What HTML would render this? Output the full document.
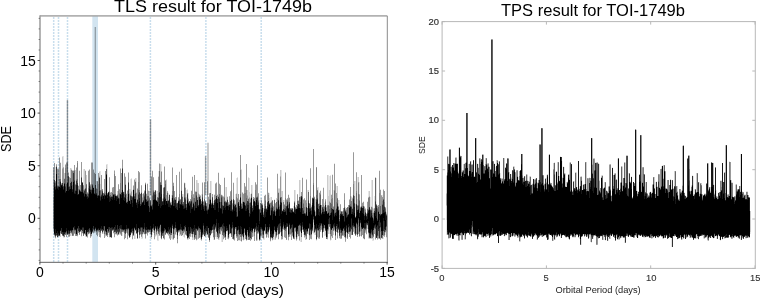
<!DOCTYPE html>
<html><head><meta charset="utf-8"><style>
html,body{margin:0;padding:0;background:#fff;}
svg{display:block;will-change:transform;}
</style></head><body>
<svg width="760" height="298" viewBox="0 0 760 298">
<rect width="760" height="298" fill="#fff"/>
<line x1="53.7" y1="15.9" x2="53.7" y2="262.4" stroke="#1f77b4" stroke-opacity="0.24" stroke-width="1.5" stroke-dasharray="2 1" stroke-dashoffset="1.9"/>
<line x1="58.5" y1="15.9" x2="58.5" y2="262.4" stroke="#1f77b4" stroke-opacity="0.24" stroke-width="1.5" stroke-dasharray="2 1" stroke-dashoffset="1.9"/>
<line x1="67.5" y1="15.9" x2="67.5" y2="262.4" stroke="#1f77b4" stroke-opacity="0.24" stroke-width="1.5" stroke-dasharray="2 1" stroke-dashoffset="1.9"/>
<line x1="150.4" y1="15.9" x2="150.4" y2="262.4" stroke="#1f77b4" stroke-opacity="0.24" stroke-width="1.5" stroke-dasharray="2 1" stroke-dashoffset="1.9"/>
<line x1="205.9" y1="15.9" x2="205.9" y2="262.4" stroke="#1f77b4" stroke-opacity="0.24" stroke-width="1.5" stroke-dasharray="2 1" stroke-dashoffset="1.9"/>
<line x1="261.2" y1="15.9" x2="261.2" y2="262.4" stroke="#1f77b4" stroke-opacity="0.24" stroke-width="1.5" stroke-dasharray="2 1" stroke-dashoffset="1.9"/>
<rect x="92.3" y="15.9" width="5.7" height="246.49999999999997" fill="#1f77b4" fill-opacity="0.2"/>
<path d="M53.5 231v4m1 1v1m1-70v14m0 57v1m2-71v1m1-1v1m1 67v1m1-75v1m2-7v1m1-1v11m0 70v1m1-1v1m7-70v1m0 65v2m6 0v1m1-52v1m1-16v1m2 65v1m1-4v1m1-65v16m1 49v1m1-65v1m0 65v1m3-67v1m0 63v1m3 1v1m2-4v1m1-62v1m1 59v1m2 3v1m1-4v2m1-64v1m1-1v13m3 48v2m2 2v1m1-73v1m1-1v29m1-2v1m0 41v2m1 2v1m1-1v1m3-5v1m1 3v1m1-4v1m4-1v1m3-76v1m0 72v4m1-45v1m0 40v1m1 6v1m1-64v1m1 16v1m1 45v1m3-61v10m1-11v1m1 11v6m0 43v1m3-9v8m1-61v14m2 40v1m1 5v1m1-46v1m1 43v2m1-1v1m2-5v1m1-53v1m1 10v1m1-11v1m1 6v1m1 41v2m1-43v9m0 34v5m2-69v1m0 61v3m2-45v1m0 48v1m1-4v1m1-46v3m0 41v1m1 4v1m1-70v5m0 60v5m2-5v2m1-74v7m0 68v1m1-42v1m4-20v1m0 53v1m1 0v1m1-42v4m2 4v1m1-7v3m0 40v1m1 0v1m1-58v1m3 50v2m1-33v1m0 40v1m2-73v1m1 63v1m2-1v1m1-42v8m0 32v3m1-55v1m0 54v1m1-55v4m1 3v7m1-8v1m1 3v5m0 41v1m3-50v1m0 43v3m1-61v1m1 58v5m3 0v1m1-61v3m0 56v1m3-2v2m1-46v7m3 35v1m1-37v1m1 34v1m1-1v2m1-41v1m2 39v2m1-57v21m2-1v2m0 35v2m1-46v1m2 42v2m1-45v1m1-23v1m1 10v1m0 54v2m1-6v1m1-41v1m0 37v10m2-3v1m1-63v1m1 9v13m1 32v2m1-38v1m1 42v1m1-6v4m3-38v3m1-21v1m2 11v9m1-25v15m1-16v1m1 62v1m1-42v1m0 40v1m2-72v1m1 67v3m1-47v1m0 46v1m1-5v4m4-63v1m1 0v14m1 2v4m2-13v20m1 31v1m1-40v1m3 42v1m2-41v8m1-10v5m1 33v1m2 2v1m1-45v1m0 36v8m1-46v1m0 39v1m1-29v2m1 27v2m1-45v1m1 0v5m0 32v1m1-34v5m0 39v1m1-4v1m1 1v1m1-37v2m0 33v1m1-41v1m0 34v6m3-67v1m1 14v1m0 50v1m1-52v1m0 45v1m1-3v1m1-63v21m1 48v1m2-40v4m0 33v1m4-44v1m0 45v1m1-44v1m1 37v2m2-1v1m1-31v3m1 30v1m1-50v17m0 25v5m2 0v2m1-3v1m2-57v16m0 36v10m2-65v1m1 54v3m3 4v1m1-50v18m1 26v1m3-30v1m0 33v1m1-8v1m1 0v1m1-38v1m0 36v2m2 5v1m1-54v1m0 49v1m1-51v16m1-11v1m1-3v1m3-4v1m1 15v3m0 23v7m1-1v1m1-31v2m1 32v1m1-65v21m1-20v14m0 37v7m1-59v1m0 64v1m1-47v1m0 42v3m1-66v1m1 15v16m1-43v1m0 67v1m2-46v7m3 7v9m0 29v1m5-2v1m1-31v2m1 24v5m5-42v1m1 0v1m3-17v23m1 30v1m1-58v22m2-17v12m1 12v1m2-5v1m1-2v1m1 37v1m2-6v1m1-34v1m1-11v6m0 41v1m2-42v12m1-29v26m1 33v2m1-33v1m0 31v1m1-45v12m2-30v26m1 1v1m2-36v1m1 18v1m1 48v1m1-44v2m1 39v3m2-6v2m1-23v1m0 24v1m1-22v10" stroke="#000" stroke-opacity="0.10" stroke-width="1" shape-rendering="crispEdges" fill="none"/>
<path d="M53.5 230v1m4 6v1m1-2v1m1-80v1m1 76v3m2-80v11m2 5v5m1-14v1m1-3v1m1-1v1m1 9v1m2-5v10m0 55v3m1-67v1m1 0v1m1-1v1m2-1v14m1-17v1m8 1v20m1 46v1m1-61v9m1 53v1m2-69v1m0 63v1m1-50v1m1-23v1m1-1v1m1 6v1m1 62v1m1-2v1m1-51v7m2 44v1m1-61v4m1 8v6m0 47v1m3-7v1m2 3v1m1-71v4m4 23v1m2-6v1m2-18v1m2 24v1m0 38v1m1-44v3m0 41v1m2-3v1m1-66v1m0 65v1m7-45v1m1-19v1m0 62v1m1-47v4m1-4v4m1-14v12m0 42v1m2-49v1m1-7v1m0 53v6m1-61v3m1 11v1m1-5v1m3 45v1m2-41v3m0 38v3m1-5v1m1-44v1m1 47v1m2-4v1m2-45v6m2-21v1m0 60v2m2-9v3m1-42v1m1 37v7m1-42v6m1-9v6m0 34v9m1-64v1m0 57v2m1-73v1m1 0v18m0 51v3m2-37v2m1-14v1m0 50v1m1-73v1m0 72v1m2-60v15m2 2v3m0 35v1m1-42v1m0 43v1m2-41v4m0 33v3m1-71v1m0 61v10m1 0v1m2-6v1m1-3v1m2-1v1m1-1v4m2-68v1m1 25v2m1 37v1m1-2v5m1-50v1m1 9v7m1-14v3m0 46v1m1-42v1m0 39v1m4-1v2m1-6v1m2-44v1m1-12v11m1-8v14m0 34v8m1-56v10m1 1v1m1 0v1m0 41v1m1 2v1m1-59v1m4 50v2m4-54v12m1 9v1m1 27v3m1 4v1m2-55v1m0 45v8m1-55v1m0 49v5m1 0v2m1 0v1m1-3v1m2-7v1m1-37v1m0 39v7m1-46v1m2 3v1m1-14v14m0 30v1m1 0v7m7 1v1m1-38v1m0 25v5m1-41v1m1-16v20m3 39v4m1-71v33m0 38v1m1-50v1m0 43v1m2-4v3m1-50v1m1 53v1m1-51v5m0 41v4m1-62v20m1-6v5m1 1v1m1-14v8m0 46v1m2-11v7m2-5v1m1-48v1m1 49v6m1-7v1m1-26v1m2-11v2m1 3v1m1 4v4m1 19v1m3-55v1m2 20v5m1-1v1m1-6v4m2 36v2m1-7v2m1 5v1m1-42v4m0 35v1m1-7v4m1-46v3m1-3v15m1-34v6m1 15v6m0 42v1m1-49v19m1-10v2m0 27v1m2-58v1m1 26v1m7 9v2m1-21v11m2 39v1m1-6v2m1-37v1m1-21v17m0 43v1m2-4v5m2-43v1m1 37v1m1-1v3m1-61v1m2 10v2m0 37v5m3-28v1m1-10v1m0 33v1m1-9v10m2-34v12m0 21v3m2-47v2m1 13v1m0 34v1m6-11v1m1 2v4m2-60v30m1-9v9m0 26v3m1-44v11m1-25v26m1 34v1m2-6v4m1-5v1m1-48v1m2 2v12m0 40v1m1-39v6m0 24v3m1-24v1m7 22v1m3-34v1m1 38v1m1-42v4m3-20v15m1 8v12m2-17v6m1-28v5m2 50v4m1 0v1m2 1v1m1-33v1m1 1v1m0 23v1m1-20v1m1 12v3m1 5v4m1-47v5m0 42v1m1-1v1m1-33v1m0 31v1m1-59v27m0 31v1m1-30v3m0 25v3m2-63v1m0 61v1m2-1v1m1-2v1m5-50v1m2 42v1m1-20v1m1 12v6" stroke="#000" stroke-opacity="0.20" stroke-width="1" shape-rendering="crispEdges" fill="none"/>
<path d="M53.5 167v1m0 61v1m1 5v1m2-72v1m4 68v1m1-51v1m1-16v1m1-2v1m0 68v1m1-59v1m4 57v1m1-60v1m0 58v1m2-4v1m3-1v1m13-42v1m3 44v1m2-6v1m4 1v1m3-59v1m3 56v1m3 0v1m4-58v1m8 16v1m1-11v1m1 4v1m5-17v1m2 58v1m3-40v1m1-1v1m0 42v1m1-46v1m3 40v1m1-52v1m4-10v1m2 12v1m1 11v1m0 36v1m1-42v1m3 39v1m2-2v1m1-36v1m4-21v1m3 56v1m3 0v1m1-4v1m1-62v1m4 8v1m2 10v1m5 36v1m6-32v1m2 36v1m2-39v1m3 37v1m1 0v1m4 0v1m2 0v1m1-44v1m2 43v1m1-48v1m2 1v1m0 44v1m4-3v1m1-36v1m0 32v1m1-53v1m1 53v1m1-34v1m1-23v1m2 11v1m0 47v1m1-7v1m1-3v1m2-31v1m11 33v1m2-37v1m1 29v1m1-30v1m1-7v1m1-6v1m0 41v1m1-62v1m1 30v1m1 35v1m1-40v1m2 36v1m11-43v1m0 39v1m1-38v1m1-2v1m1 42v1m1-48v1m1 11v1m3-24v1m0 47v1m1 9v1m1-76v1m1 27v1m1 46v1m1-2v1m1-40v1m2 37v1m3-2v1m1-4v1m1 2v1m1-9v1m2-29v1m2 4v1m1 24v1m1-29v1m0 34v1m2-9v1m1-39v1m1 11v1m1-29v1m4 27v1m3-7v1m2 37v1m1-3v1m5-4v1m2-38v1m0 39v1m3-39v1m0 34v1m4-34v1m1 1v1m0 35v1m5-69v1m0 69v1m3-17v1m2-12v1m0 19v1m4 6v1m1-8v1m1-3v1m3-24v1m1-8v1m1 7v1m2 22v1m1-30v1m1 0v1m0 36v1m3-34v1m7-3v1m0 33v1m1-1v1m1-28v1m0 23v1m1-1v1m1-43v1m1 15v1m0 31v1m7-44v1m1-47v1m0 78v1m1 1v1m1-18v1m1-45v1m3 21v1m0 41v1m1-6v1m5-1v1m2-7v1m1-29v1m0 35v1m1-38v1m3 10v1m1 4v1m7 26v1m1-45v1m1 42v1m2-3v1m1-30v1" stroke="#000" stroke-opacity="0.30" stroke-width="1" shape-rendering="crispEdges" fill="none"/>
<path d="M53.5 168v29m0 31v1m1-66v17m1 1v1m0 55v1m1-73v1m0 69v1m1-67v16m1-16v17m1-28v21m1-16v16m2-10v14m0 52v1m1-68v18m2-21v3m1-5v21m0 50v3m1-74v19m1-9v3m0 58v2m1-58v8m4 49v1m1-71v5m1 14v1m0 49v2m1-68v11m1-18v2m0 72v1m1-50v3m0 43v1m1-62v18m0 45v1m1-50v5m0 41v1m1-70v15m0 53v6m2-51v1m1 3v1m1-19v17m1 48v1m1-4v4m1-66v17m1-18v12m1 3v1m0 50v1m1-74v21m0 50v2m1-73v21m1-14v17m0 43v3m1-60v17m0 41v1m1-58v11m0 44v2m1-43v1m0 43v2m1-53v1m0 49v5m1-63v11m0 47v1m1 0v5m1-4v4m1-62v15m1-1v1m2-11v13m0 42v4m1-67v22m0 39v2m1 1v1m1-1v2m2-59v13m0 44v2m1-44v2m1-3v4m1-8v5m0 37v1m1-44v7m0 36v3m1-62v3m0 58v5m1-61v18m0 38v2m2-2v3m1-50v6m0 43v1m1-45v3m0 39v1m1-64v14m0 50v1m1-61v19m0 43v1m1-76v8m1 63v1m1-58v18m0 41v6m1-62v7m0 50v4m1-44v5m0 32v1m1-41v6m0 37v5m1-66v9m0 48v5m1-41v6m1-6v1m0 40v1m1-44v4m1 0v1m0 36v6m1-53v3m0 46v1m1-56v14m0 35v3m1-2v1m1-38v9m0 31v1m1-45v10m0 39v1m1-68v11m0 48v2m1-59v17m0 45v3m2-52v6m0 44v1m1-39v4m1 30v1m1-42v1m1-9v1m0 50v4m1-44v5m1-15v12m0 37v2m1-44v5m2 36v2m1-57v28m1-34v24m0 36v1m1-54v12m1 45v4m4-62v16m1-29v7m1 60v1m4-65v20m0 45v7m1-5v1m1-40v6m1-9v1m1 40v2m1-1v4m1-36v1m0 32v5m1-38v2m1-36v23m1-8v3m1 5v7m0 32v8m1-41v2m0 29v6m1-59v22m1 42v4m1-45v2m1-28v22m0 37v1m1-33v1m1-31v21m0 41v5m3-5v1m1-44v9m3 2v3m1 34v3m1-40v2m0 33v2m1-45v4m1-18v20m1-2v3m1-23v23m0 41v1m1-5v3m1 1v1m1-43v1m1-4v3m0 35v6m1-43v1m0 41v1m1-42v3m0 33v5m1-36v1m0 37v1m1-57v11m0 41v1m2-53v16m1 36v1m1-32v1m1-23v21m1-6v10m0 30v1m1-44v5m0 41v1m3-47v3m1 7v1m1-10v5m0 39v1m1-56v15m0 29v1m1-46v13m1-1v4m1-26v23m0 42v1m1-55v10m0 40v3m1-52v17m0 28v4m2-38v1m1 0v8m0 31v3m1-61v19m1 41v2m2-43v2m1 4v1m0 34v1m1-42v7m1-12v9m1-28v17m1 14v5m0 20v10m1-56v16m1 2v3m0 31v5m2-46v3m0 39v1m1-39v1m0 38v4m1-47v8m0 32v6m1-40v6m0 29v5m1-85v15m1 33v1m1-11v9m1-8v7m0 38v1m1-57v10m0 39v1m1-46v6m0 43v3m1-75v26m1 6v5m0 31v3m2-37v5m1-4v3m0 36v2m2-7v4m1-40v2m1-1v3m0 35v5m1-58v7m1-5v12m1-31v30m0 37v1m1-40v6m0 32v1m2 4v2m1-38v3m0 26v6m1-32v1m0 30v3m1-26v1m1-17v8m1-9v5m0 33v1m1-26v1m1-31v24m1-9v2m0 38v4m2 3v1m2-41v1m0 38v1m2-10v1m1-27v7m0 21v6m1-2v1m1-63v25m1 36v4m1-34v1m1-29v20m0 32v3m1 4v3m1-29v1m0 26v2m1-12v2m1 1v7m1-64v25m0 33v7m1-38v6m0 33v1m1-41v1m1-5v9m0 33v3m1-42v4m0 32v2m1-28v1m1-1v1m0 25v6m1-5v1m1-25v1m1-11v1m0 27v10m1-32v1m1-3v3m0 31v1m1-45v6m2 35v4m2-48v4m1-18v19m0 32v1m1-30v3m1-4v8m0 28v2m1-36v12m1-33v23m1 30v1m2-31v1m0 32v4m1-71v27m0 39v3m1-3v4m2-90v34m0 37v2m1-25v1m0 34v1m1-21v3m1-48v1m0 71v1m1-9v6m1-6v7m1-45v10m0 34v1m1-47v3m0 36v1m1-26v5m0 16v3m1-30v8m0 30v1m1-50v17m0 26v1m2-32v1m1 7v3m1-6v1m0 31v2m1-10v1m1-28v4m1 28v5m1-44v4m1-24v23m0 31v9m2-74v26m0 39v1m1-46v26m0 26v4m1-47v9m0 27v3m1 1v5m1-32v1m1 3v5m0 3v1m0 17v2m1-33v6m0 22v5m3-30v2m0 21v4m1-41v6m1 38v3m1-33v2m1 28v1m1-34v2m0 25v2m1-34v5m0 27v5m1-50v9m0 36v6m1-8v5m1-36v9m1-55v31m0 43v4m1-2v4m1 2v1m1-63v18m0 37v6m1-29v1m0 29v2m1-55v1m0 44v7m1-39v5m1 7v1m0 16v7m1-56v31m1-3v3m0 23v6m1-33v4m1 1v2m1 0v1m0 20v1m1-2v5m1-32v7m3 0v1m1 25v3m1-30v5m2-5v1m0 20v5m1 1v4m1-35v1m1 1v2m0 30v1m1-34v2m0 29v2m1-67v22m0 45v1m1-49v16m0 26v7m1-43v18m1-17v4m1-11v9m0 36v1m1-45v11m0 33v1m2-5v6" stroke="#000" stroke-opacity="0.40" stroke-width="1" shape-rendering="crispEdges" fill="none"/>
<path d="M53.5 197v31m2-46v1m1-17v1m1 18v1m3 45v2m1-49v1m3 50v2m1-69v5m0 61v1m1-2v1m1 0v1m2-1v2m1-58v5m0 48v2m1-63v11m1-10v14m0 50v1m1-65v2m0 57v5m1-65v1m0 60v2m1-2v3m1-55v1m0 55v1m1-73v16m1 10v5m0 37v1m1 0v2m1-44v1m2-9v1m0 48v2m1-47v4m0 45v1m2-2v1m1-51v1m1 8v1m0 38v1m1-45v5m0 40v1m1-2v1m1-47v1m0 47v2m1-52v5m2-2v1m1 2v3m3-11v7m1-5v11m1-18v1m1 12v1m1-1v4m0 36v1m1-41v1m0 41v1m1-40v1m1-2v1m1 0v2m2-2v1m1 38v1m1-42v1m0 40v3m2 2v1m3-64v20m2 39v1m2-43v6m1-4v1m1-11v11m0 35v4m1-1v3m1-4v1m2-40v2m1-10v1m1 14v3m0 28v1m1-34v4m0 32v1m1-5v1m1-30v1m0 36v1m4-49v1m1 4v2m4-14v8m0 39v1m1-40v2m1 40v2m1-42v1m0 41v2m2-42v6m1-8v3m0 35v4m2-3v2m1-1v1m2-35v1m0 32v1m1-32v1m0 29v2m2-37v1m0 33v2m1-41v1m0 38v1m1 3v2m1-45v1m0 37v1m1 3v2m1-37v1m0 32v1m1-38v4m0 36v1m1-2v3m1-53v1m0 42v6m1-59v13m0 53v1m1-4v1m1-48v6m1 37v1m1-51v3m2 49v1m1-34v1m3 3v1m1-14v4m1 43v1m1-10v1m1-31v1m1-3v6m2-3v1m0 30v1m1-38v5m1 31v4m1-44v1m0 39v1m1 0v4m1-4v2m1-50v1m1 13v1m0 30v6m2-41v1m0 44v1m3-6v1m1-39v5m0 33v1m1-37v10m0 27v3m1-39v4m0 30v2m1 4v1m1-47v9m1 34v4m1-41v2m1-3v8m0 25v2m1-36v1m0 38v2m2-35v1m1-9v1m1 7v3m2-4v1m0 32v1m1-30v1m0 26v1m1-30v6m0 25v1m1-28v1m1-9v1m2 3v1m2 29v4m5-41v1m2 32v1m1-35v1m0 34v1m1-34v8m1 0v1m1-9v1m0 37v2m1-36v1m0 35v1m2-39v1m1 4v1m1 28v1m2-44v9m0 36v2m1-9v1m3-25v1m0 23v1m1-32v10m1-8v4m0 33v1m3-67v24m0 40v3m1 0v4m1-39v2m0 31v1m1-35v1m0 36v1m1-46v9m0 27v3m1-39v12m0 30v1m1-46v8m2 39v3m1-1v1m3-34v2m2 25v3m1-46v12m0 27v1m1 9v1m1-44v1m1 3v1m2 2v6m0 27v1m2-3v1m1-22v1m1-10v4m1-8v1m0 27v5m1 1v3m1-5v2m1-39v6m0 31v1m1-30v1m0 24v1m1-26v5m0 31v1m1-38v1m0 34v1m1 0v1m1-32v4m2 0v1m2-13v9m1 26v1m1-29v1m1 20v2m1-32v5m1 29v6m1-35v7m0 17v1m1-22v3m1-10v8m1 23v10m1-39v1m1 3v1m2 25v4m1-1v1m1-26v1m0 24v2m1 3v1m1-11v1m1-1v3m1-23v1m2-8v3m0 30v2m1-10v10m1-39v5m0 28v1m2-34v11m0 19v2m1-26v1m0 27v1m1-25v6m1 22v1m1-33v4m0 29v3m1-31v7m0 17v1m2 2v1m1-40v8m0 27v4m1-28v1m1 22v1m1-48v2m1 13v8m1 9v1m0 14v1m1-63v27m1-5v1m0 39v1m2-28v1m1-10v1m0 33v2m1-20v3m0 12v1m2-21v2m0 23v1m1-24v4m0 15v2m1-27v1m2 4v7m1-8v1m0 19v4m1-23v3m0 17v1m2-28v5m0 26v6m1-38v11m0 19v1m1-22v2m0 21v1m1-41v1m0 37v1m1-19v2m1-10v6m1-10v1m1 30v1m1-15v3m1-7v2m1-2v1m0 24v2m1-26v2m1-4v1m0 18v2m1-31v7m0 28v2m1-27v1m1-1v2m1-5v1m0 29v1m1-31v7m2-18v8m1-3v5m0 23v1m1-22v1m1-25v11m1 1v7m0 25v1m2-38v2m0 31v4m2-45v11m0 29v4m1-27v1m1 22v1m1 7v5m1-30v2m1 20v10m1-29v5m0 19v6m1-29v2m1 2v2m0 12v1m2-31v11m1-12v10m2 0v3m0 24v1m1-22v2m0 21v2m1-25v5m0 18v1m1-28v2m0 17v1m1 0v6m2-27v1m0 27v2m1-7v5m1-43v21m1 14v4m2-31v3m0 31v3m1-7v4m1-33v4m1 2v1m0 22v1m1-18v1m0 12v4" stroke="#000" stroke-opacity="0.50" stroke-width="1" shape-rendering="crispEdges" fill="none"/>
<path d="M55.5 183v3m0 50v1m4-58v7m1-7v2m4-2v4m0 51v1m1-62v13m0 47v1m1-50v7m0 41v1m1-51v1m2 3v1m2-6v1m0 50v1m1-48v4m0 42v4m1-7v2m1-59v9m0 50v1m1-46v5m0 40v1m1-51v1m0 53v1m1-56v4m0 46v6m2-46v1m2-13v1m2 12v2m0 42v1m1-45v1m0 42v1m1-46v1m0 41v4m1-49v9m1 0v2m1-3v1m0 38v1m1-3v2m1-45v2m0 43v2m1-45v1m1-6v1m1 44v1m3-41v4m0 38v1m1-43v6m0 35v1m1-1v1m1-1v2m1-41v5m0 36v1m1-39v1m2-1v1m0 35v1m1-38v1m0 33v7m1-3v1m1-63v5m1 55v6m2-43v4m0 34v2m1-37v2m1-1v1m1-4v3m3-2v1m2 0v1m1 1v1m1-4v4m2-6v1m0 37v2m1-64v1m0 61v1m1-1v1m1-37v3m0 33v3m2-4v1m1-29v1m0 28v3m1-51v1m2 12v1m1 36v1m1-2v2m2-5v1m1-47v11m1 9v1m1-4v1m1-10v4m0 34v1m2-35v10m0 27v1m1-4v6m1-2v2m2-39v1m0 33v1m1-46v1m1 14v1m0 30v1m1-35v5m1-5v4m0 30v2m1-33v8m0 23v1m2-26v1m0 29v2m1-41v8m1-13v1m0 36v1m1-37v2m0 37v2m2-33v1m1-3v3m0 28v1m1-33v1m0 34v1m1-62v21m0 36v4m1-49v2m2 49v1m1-41v4m0 35v5m2-54v14m0 32v4m2-41v8m1 31v1m2 0v2m1-2v2m1-9v2m1-42v14m0 34v4m1-40v1m2 32v1m1 4v3m2-40v1m0 30v1m1-31v4m2-7v7m1-2v2m0 26v1m1-47v13m0 33v1m1-33v1m0 28v1m1-24v3m0 24v4m2-33v1m0 34v1m1-37v1m0 32v2m1-35v1m1-2v1m0 31v1m2-31v1m1-5v7m0 32v1m1-37v1m1-10v3m0 34v6m1-5v1m1-2v1m1-1v6m1-5v2m1-29v1m1-9v2m1 29v8m1-35v6m2 26v1m1-23v1m1-2v1m0 19v9m1-37v4m1-11v6m1 32v2m2-3v3m1-3v9m1-12v1m1 3v1m1 3v2m1-6v7m1-44v4m0 35v1m1-32v6m0 20v1m1-33v1m0 30v3m1-1v6m1-2v3m1-38v3m0 32v2m3-5v1m1 6v1m1-34v1m0 20v8m2-34v1m0 34v1m1-26v1m2-6v2m0 28v1m1-8v1m1 6v2m1-33v13m0 15v5m1-6v4m2-40v3m1 7v2m0 29v2m1-33v4m1 29v1m3-40v5m0 36v1m1-10v2m1-33v2m1 2v10m0 24v2m1-37v1m1-9v3m0 35v7m1-7v1m2-1v1m2-36v1m0 33v8m1-8v2m1-32v1m1 7v1m1-1v3m1 17v1m1 1v3m1-20v1m0 20v3m1-30v1m1-8v5m0 21v1m4-1v1m1-20v7m0 23v1m1-36v4m1-6v4m1 31v1m1-37v10m1 2v3m1-13v5m0 28v1m1-28v1m0 19v2m1-37v7m1 7v2m0 24v1m1-37v1m0 28v1m2 2v2m2-23v2m1-4v2m0 21v2m1-3v1m1-28v1m0 24v1m1-22v3m0 27v2m1-12v9m1-5v1m1-21v1m0 18v5m1-1v1m2-31v1m1 5v1m1 29v1m1-38v5m0 26v2m1-8v8m1-37v7m0 21v1m1-24v6m0 18v4m1 3v4m2-33v6m0 20v1m2-18v1m1 18v4m1-21v1m1-24v8m0 28v1m1-25v4m1-4v4m0 22v1m1-23v2m0 24v1m2-50v13m0 21v1m1-14v4m2-15v4m1-8v7m1 6v5m0 21v1m1-27v2m0 23v8m1-42v10m0 21v2m1-4v1m1 8v4m1-30v2m0 20v1m1-5v1m1-24v3m0 25v1m1 6v2m1-8v6m1-31v6m0 12v1m1-16v6m0 9v2m1-23v10m0 16v5m1-30v4m2 19v3m1-39v22m0 14v1m1-16v1m0 22v1m1-28v1m0 17v3m1-30v4m0 29v1m1-26v3m1 9v2m1-8v1m0 16v3m1 0v3m1-5v4m1-24v5m1-9v1m0 23v4m1 2v1m1-26v1m0 16v3m1-24v7m0 18v4m1-9v4m2-28v2m0 25v1m1-26v1m3 20v1m2-35v11m1 2v4m1-16v11m0 15v3m1-22v12m0 19v4m1-28v2m1-4v1m0 22v2m3-17v1m0 14v4m1-4v1m1-5v3m1-19v3m1-3v1m0 22v1m1 4v1m2-5v1m1-19v2m0 18v1m1-18v1m0 11v6m2-58v23m2 8v10m1-12v4m2-5v8m0 13v1m2-24v1m1-6v1m1 6v1m0 25v3m1-26v2m0 19v1" stroke="#000" stroke-opacity="0.60" stroke-width="1" shape-rendering="crispEdges" fill="none"/>
<path d="M54.5 234v1m1-49v1m2-1v1m1-1v1m0 48v1m1-50v1m0 48v1m1-55v1m1 51v1m1 0v1m1-49v1m2-1v1m1 44v1m2-56v1m0 56v1m4-4v1m2-51v1m1 9v1m8 1v1m0 40v1m6-52v1m0 46v1m1-41v1m2 41v1m2-39v1m0 36v1m1-3v1m2-34v1m3 0v1m0 34v1m2-41v1m1 3v1m1 30v1m2 7v1m1-41v1m1 36v1m1-3v1m3-34v1m1-3v1m0 34v1m1-36v1m1 0v1m0 35v1m2-1v1m2-34v1m0 32v1m2-3v1m2-38v1m2 40v1m1-32v1m1 26v1m4-34v1m1 0v1m2-2v1m1-4v1m3 0v1m1-3v1m0 41v1m3-4v1m1-32v1m1-5v1m0 31v1m1 4v1m3-34v1m1 6v1m1-7v1m2 2v1m1-13v1m1 1v1m1 32v1m1 3v1m1-31v1m0 26v1m1 2v1m3 5v1m1-37v1m0 31v1m1-36v1m1-12v1m0 42v1m1-33v1m1 33v1m4-30v1m0 28v1m2-38v1m1 4v1m1-2v1m0 28v1m2-26v1m0 26v1m1-28v1m0 31v1m1-6v1m1-31v1m1 28v1m3-26v1m1-8v1m0 31v1m1-31v1m1 7v1m1-14v1m3 7v1m1 28v1m3-27v1m2-11v1m2 32v1m1-1v1m3-32v1m0 36v1m1-30v1m1-1v1m1 27v1m1-28v1m4-8v1m1 4v1m1-8v1m0 31v1m1-1v1m1-30v1m1-2v1m2 34v1m1-5v1m1-33v1m1 28v1m1-31v1m1 7v1m0 22v1m1 3v1m1-32v1m0 30v1m1-31v1m1-1v1m2 2v1m3 27v1m1-7v1m1-29v1m0 38v1m3-32v1m3 26v1m2-29v1m0 27v1m1-1v1m2-33v1m1 2v1m1-3v1m2-3v1m1 34v1m2-40v1m1 33v1m1-33v1m2 2v1m2-6v1m0 32v1m1-29v1m0 28v1m1 7v1m1-28v1m0 22v1m1-32v1m1 0v1m2 24v1m3-29v1m0 28v1m3 5v1m1-31v1m1-3v1m1 29v1m2-21v1m1-9v1m5-6v1m2 22v1m1 3v1m1-22v1m1-3v1m0 20v1m3-26v1m1 6v1m6 27v1m1-7v1m2-28v1m3 21v1m1-17v1m2 23v1m1-4v1m1-1v1m1-32v1m3 9v1m1-13v1m0 30v1m3-1v1m1-31v1m1-2v1m0 30v1m4-17v1m1-7v1m0 24v1m1-5v1m1-18v1m3 1v1m0 16v1m1-19v1m1 2v1m1 12v1m3-20v1m0 16v1m1-14v1m3-11v1m2 31v1m7-8v1m2-2v1m1-23v1m3 28v1m1-40v1m0 30v1m1-24v1m1 13v1m0 16v1m1-12v1m1 10v1m1-30v1m0 13v1m2-10v1m1 17v1m2-23v1m1 8v1m1-4v1m1 11v1m1-13v1m0 11v1m3-15v1m1-1v1m0 21v1m2-14v1m1 7v1m1-27v1m0 26v1m1-24v1m1 13v1m0 15v1m1-25v1m2 2v1m1 22v1m4-27v1m1 14v1" stroke="#000" stroke-opacity="0.70" stroke-width="1" shape-rendering="crispEdges" fill="none"/>
<path d="M54.5 180v3m1 4v2m0 46v1m1-69v7m0 59v2m1-48v1m0 47v2m1-3v1m3-7v5m1-50v2m0 47v2m1-47v2m0 46v1m1-53v1m1 3v5m0 40v1m3-56v10m0 44v2m1-46v2m0 44v1m1-51v6m0 41v1m1 0v1m1-43v1m1-17v9m0 45v1m1-47v12m0 36v1m2-49v4m1-2v2m0 43v1m1-3v5m2-40v1m0 38v1m1-53v14m1 36v3m1-3v5m1-42v5m1-7v5m1 0v1m1 1v1m1-3v3m0 34v1m1-49v3m0 42v1m1 2v1m1-42v3m1-8v1m1 40v3m2-44v9m1-1v1m0 36v1m2-36v1m0 33v1m1-52v13m1 6v3m0 29v2m1-36v1m0 33v1m1-38v1m0 36v3m2-38v1m1 0v1m1-22v1m0 57v2m2-42v1m1 3v1m0 30v2m1-32v1m0 30v9m1-9v9m1-8v1m2-35v3m0 29v5m1-2v1m1-35v1m0 33v3m1-37v1m0 28v6m1-2v5m1-35v5m0 24v3m1-3v1m1-36v2m1-26v21m0 39v1m1-37v1m1 3v1m0 31v1m1-45v10m0 36v2m3-50v11m0 34v1m2-33v8m1-7v3m1-2v5m0 26v2m1 3v1m1-38v2m1-5v5m1 30v4m1 0v5m1-43v7m1-9v5m0 31v5m1-30v2m0 22v3m1-38v11m0 23v1m1-26v1m0 25v3m1-2v3m1-35v8m0 22v1m1-43v6m0 39v3m1-33v2m1 28v2m1-31v5m0 23v1m1-22v4m1-10v3m0 24v1m1 4v1m1-30v4m0 19v1m1-36v7m0 27v1m1-33v4m0 31v1m1-40v4m0 31v1m1 3v1m1-4v1m1-30v8m0 23v2m1-39v1m0 34v1m1-43v12m1-12v9m0 41v2m2-38v2m0 31v1m1-45v9m0 31v2m1-1v1m2-29v2m0 28v2m1-2v1m1-37v4m0 31v4m1-30v1m0 23v4m2-36v2m0 27v1m1-25v5m0 23v5m1-34v3m1 22v3m1-24v3m0 22v1m1-26v6m2-9v3m2-13v11m0 27v1m1-26v1m1 0v1m0 23v1m1-32v10m0 18v3m1-29v4m1 4v2m1-15v5m2 2v3m0 28v1m1-31v1m0 23v6m1-32v1m0 27v2m1-24v1m1-5v1m0 27v1m1-26v4m0 20v7m1-8v6m1-39v12m2-3v1m0 21v1m2-29v1m0 29v1m1 8v1m1-41v2m0 33v1m1-28v1m0 18v1m1-20v5m0 21v4m1-34v1m0 27v3m1-26v3m1 0v1m1-2v1m1 23v7m1-10v5m1-5v1m1-33v5m0 24v2m1-24v3m0 17v4m1-28v2m0 26v1m1-30v2m0 24v1m1-31v2m0 25v8m1-32v4m0 30v1m1-37v11m0 20v2m1-31v3m0 27v4m2-35v4m1 4v7m0 12v3m1-2v6m1-5v5m1-29v4m0 29v1m1-9v3m1-31v6m1 29v2m1-13v1m1-24v4m1 24v4m1-23v1m0 14v2m1-27v1m0 35v2m1-32v1m2 1v4m0 15v7m1-18v1m0 13v1m1-29v1m0 26v1m1-24v2m1-11v1m1 9v2m0 20v5m1-26v1m2 19v1m2-25v5m0 28v2m1-38v4m1-3v3m0 31v1m1-24v3m0 17v3m1-33v4m0 24v7m1-8v2m1-24v3m1-11v2m0 26v1m2-26v3m0 22v1m1-31v2m0 26v5m1-33v7m1-2v2m1 5v11m1 8v6m1-30v5m0 18v1m1-23v2m0 22v1m1-16v2m0 17v1m1-26v2m1-5v3m0 15v3m1-18v1m0 23v1m1-31v3m0 21v4m1 0v1m1-28v1m2 3v2m1-4v2m1 3v1m0 22v1m1-25v1m0 16v3m1 1v1m1-24v1m0 23v3m1-8v1m1-28v1m0 24v9m1-25v1m0 14v9m1-35v4m0 21v3m1 6v4m1-8v1m1-20v1m0 14v1m1-15v2m0 16v1m1-20v2m0 17v1m1-22v8m1-13v3m0 19v2m1 8v1m1-32v1m0 20v1m1-15v2m1 15v1m1-19v2m0 14v7m1 5v1m1-35v3m1 3v1m0 17v1m2-22v1m2-2v3m1 0v1m0 16v1m1-30v1m1 11v6m0 11v1m1-15v3m0 15v1m1-17v1m0 20v1m1-21v1m0 15v4m1-27v1m0 21v2m2-30v2m1 5v1m0 15v11m1-27v1m0 20v1m1-19v3m1-15v4m0 25v1m1-31v1m0 18v2m1-9v1m0 14v7m2-32v2m0 27v10m1-40v1m0 28v1m2-23v6m0 15v2m1-4v1m1-3v1m1-16v4m1-3v3m2 17v1m2-1v1m2-12v6m1-11v2m0 9v4m1-20v4m2 13v1m1-12v2m0 10v1m1 4v4m1-26v3m1-8v2m0 22v4m1-4v1m1-8v1m0 10v3m1-6v1m1-18v2m0 18v1m1-19v1m1 13v1m1-21v13m0 9v1m1-20v1m0 24v1m1-24v4m0 9v2m1-13v1m1-2v1m1-9v2m0 23v1m1-26v1m0 21v3m1-24v7m0 5v10m1-20v3m0 14v8m1-38v3m0 26v1m1-22v3m0 19v1m1 6v1m1-30v1m1 20v9m1-28v3m0 9v1m1 12v1m1-10v1m1 4v1m2-21v1m1 20v1m1-1v1m1-13v1m0 6v1m1-11v1m0 9v1m1-14v1m0 18v3m1-25v1m0 25v4m1-26v6m0 17v4m1-27v2m0 17v2m1-15v1m0 16v1m1-15v1m1-10v2m0 13v1m1-25v10m0 13v3m1-22v2m0 29v1m1-18v1m0 5v9m1-6v2m1-11v6m0 2v10m1-15v4m1 4v6m1-32v8m1-13v10m0 11v10m1-24v5m0 17v3m2-17v1" stroke="#000" stroke-opacity="0.80" stroke-width="1" shape-rendering="crispEdges" fill="none"/>
<path d="M54.5 183v4m0 46v1m1-45v1m0 39v6m2-47v1m0 42v4m1-48v3m0 43v1m2-52v6m0 42v1m1-46v1m1-1v2m1 2v1m0 42v3m1-3v2m1-42v1m1 35v3m1 2v1m1-47v4m0 39v1m1-42v1m0 41v2m2-51v4m0 44v1m1-41v2m2 1v1m0 32v3m1-38v3m0 35v1m1-45v6m1-6v10m1-1v1m1-5v1m0 37v4m1-3v1m1-1v1m1-47v9m0 35v1m1-35v1m0 33v1m1-32v1m2-2v2m0 37v2m1-39v2m0 31v2m1-35v1m0 31v2m1-45v3m1 1v2m0 38v1m1-38v1m0 39v1m1-48v4m0 38v3m2-2v1m1-36v1m0 32v1m1-34v1m1 1v2m0 31v1m1-2v1m1-38v5m1 4v1m0 27v1m1-33v1m0 29v3m1-36v6m1 27v4m1-35v4m1 31v1m2-36v3m1 29v4m1-34v5m1-4v3m1-4v2m0 28v1m1-31v3m0 27v2m1-1v1m1-31v2m1 25v5m1-33v4m0 28v1m1-33v2m1-1v1m1 27v2m1-34v1m0 30v3m1-33v3m0 27v4m2-35v6m0 29v1m1-32v3m1-6v3m0 31v2m1-6v4m1-27v2m0 24v1m2 7v1m1-5v3m1-6v3m1-29v4m0 21v1m1 2v3m1-7v1m1 1v1m1-27v2m0 19v5m1-29v8m0 24v1m1-31v2m1-6v3m1 26v1m1-24v1m1 22v1m1-27v1m1 21v4m1-36v8m0 30v1m1-3v3m1-29v1m0 27v1m2-1v1m1-25v1m0 20v3m1-23v1m0 25v2m1-25v1m1 14v3m1-28v1m1-5v5m1 29v1m1-4v1m2-34v11m0 22v1m1-30v11m0 16v1m1-31v12m0 26v3m1-33v3m0 26v2m1-32v4m0 26v1m1-35v3m1-1v6m2-2v1m1-3v6m0 20v4m1-32v8m0 22v1m1-25v3m0 19v1m1-23v1m1 18v1m2-22v3m0 21v1m1-28v8m0 14v3m1-18v2m0 19v1m1 2v4m1-34v1m1 2v4m0 21v1m1-26v1m0 19v5m1-27v3m0 22v2m1-24v1m0 24v1m1-25v3m1-1v1m1-5v4m0 17v2m2-27v1m0 35v2m1-35v1m0 23v10m1-32v1m0 25v2m1-29v9m1-11v7m0 19v1m1-21v1m0 20v5m1-6v3m1-21v1m0 14v5m1-28v6m0 20v1m1-1v1m1-29v6m0 23v1m1-24v1m0 19v1m1-30v3m1 0v5m1-1v6m0 27v1m1-38v2m0 30v1m1-26v2m0 14v2m1 4v3m1-29v3m0 22v2m1-20v1m0 15v5m1-20v3m0 12v8m2-30v1m2 0v3m1-5v1m0 22v1m1-3v1m1-22v7m0 14v5m1-27v8m0 15v1m1-7v4m2-15v4m0 11v5m1-1v2m1-21v1m1-7v7m0 17v1m1-14v1m0 10v1m1-19v4m0 13v3m1-24v6m0 18v1m1-20v3m0 24v2m1-33v3m0 20v2m1 0v2m1-24v4m1-5v2m1-2v6m0 16v6m1-33v11m0 17v1m1-18v1m0 10v3m1-24v4m0 22v9m1-29v4m0 17v6m1-29v3m1 4v5m2-14v1m0 22v3m1-21v3m0 21v2m1-8v8m1-7v2m2 4v4m1-34v2m1 1v5m0 23v1m1-26v2m0 25v1m1-32v3m1-3v5m0 25v1m1-20v1m0 10v6m1-26v7m1 14v2m1-19v1m0 18v1m1-29v8m1-9v1m0 26v4m1-5v1m1-5v3m1 1v3m1-25v4m0 16v6m1-10v3m1 3v2m1-19v5m0 12v1m1 1v1m1 1v3m1-23v7m1-9v8m1-7v2m1-6v4m1-9v6m0 23v1m1-7v3m1-12v1m0 18v3m1-27v1m0 20v6m1-29v12m0 14v4m1-26v2m0 19v1m1-23v1m0 14v1m2-18v2m1-2v1m0 16v1m1-26v6m0 17v1m1-15v6m0 7v1m1-22v3m0 14v4m1-20v11m0 17v1m1-21v1m0 15v1m1-18v2m0 10v2m2-13v1m0 13v3m1-5v4m1-22v1m0 17v1m1-16v1m1-5v8m0 11v1m1-12v1m0 15v1m1-19v3m0 12v2m1-16v1m0 12v1m1-13v1m1-7v7m0 14v1m1-18v4m1 19v4m1-30v2m0 20v2m1-27v4m0 17v1m1-2v1m1-16v3m0 11v2m1-28v1m1 24v3m2 3v6m1-19v1m0 13v1m1-22v4m2-9v3m1 3v3m0 11v1m1-15v2m0 13v5m1-15v1m0 14v5m1-31v2m0 22v1m1-12v1m1-6v1m1 4v1m0 11v1m1-27v13m0 9v5m1-29v8m1 1v6m0 10v5m1-18v4m0 7v4m1-4v2m1-11v1m1 11v6m1-20v2m0 10v4m1-16v2m1-9v3m0 20v1m1-18v1m2 7v5m1-7v1m2-6v1m0 16v1m1-21v11m1 4v1m1-9v1m0 6v3m1-13v2m1-3v4m0 8v2m1-20v1m0 17v4m1-18v1m0 16v1m1-6v10m1-18v2m0 12v1m1-15v1m0 15v2m1-17v1m0 14v1m2-10v1m0 5v3m1 3v3m1-19v1m0 7v1m1-10v1m0 15v1m1-9v3m1-1v5m1-4v1m1-10v1m1-7v2m0 11v1m1-27v16m0 8v2m1-18v6m1 15v5m1-28v11m0 6v1m1-13v2m0 12v1m1-16v1m1 3v4m0 9v5m1-11v2m1-15v1m1 0v5m0 15v1m1-21v6m0 13v1m1-12v4m0 3v5m1-15v2m0 8v5m1-11v3m0 2v1m1-9v5m1-8v2m0 8v8m1-21v2m1 7v1m0 15v1m1-21v3m0 13v1m1 1v3m1-13v2m0 5v2m1-5v1m1-14v4m0 8v1m1-17v10m0 9v10m1-12v1m1-4v7m1-15v6m0 6v2m1-13v1m0 6v1m1-9v1m1-2v1m0 17v4m1-25v3m0 5v3m1-9v1m0 8v8m1-17v8m0 7v3m1-10v6" stroke="#000" stroke-opacity="0.90" stroke-width="1" shape-rendering="crispEdges" fill="none"/>
<path d="M54.5 187v46m1-43v39m1-55v59m1-44v42m1-41v43m1-46v48m1-47v42m1-44v42m1-41v45m1-42v42m1-48v48m1-39v39m1-41v37m1-45v50m1-42v39m1-40v41m1-42v41m1-44v44m1-38v38m1-48v45m1-33v32m1-32v35m1-38v43m1-39v33m1-33v31m1-35v37m1-36v37m1-37v37m1-37v35m1-33v33m1-30v36m1-39v36m1-33v37m1-35v31m1-32v31m1-40v39m1-36v38m1-36v39m1-43v38m1-40v38m1-32v35m1-34v32m1-32v35m1-32v31m1-33v32m1-32v34m1-29v27m1-31v29m1-27v30m1-33v30m1-27v27m1-30v34m1-55v57m1-34v31m1-36v34m1-25v25m1-26v27m1-29v28m1-27v27m1-32v33m1-28v27m1-31v29m1-24v28m1-30v26m1-26v30m1-25v22m1-31v30m1-27v27m1-35v39m1-29v29m1-28v28m1-31v31m1-26v22m1-21v24m1-34v34m1-27v35m1-32v28m1-32v29m1-22v21m1-38v41m1-32v28m1-28v30m1-24v19m1-16v24m1-28v24m1-27v28m1-23v21m1-22v22m1-24v24m1-25v27m1-24v18m1-24v30m1-27v25m1-25v27m1-23v23m1-17v17m1-23v20m1-19v25m1-22v18m1-28v24m1-24v30m1-30v26m1-25v28m1-27v24m1-20v23m1-25v22m1-18v16m1-18v26m1-27v26m1-26v26m1-31v28m1-23v24m1-28v31m1-28v27m1-24v20m1-20v22m1-21v19m1-21v27m1-35v26m1-18v23m1-23v21m1-19v14m1-13v19m1-18v21m1-29v28m1-22v21m1-24v19m1-19v22m1-21v24m1-21v20m1-20v17m1-18v17m1-15v21m1-30v35m1-32v23m1-21v25m1-18v14m1-18v19m1-19v20m1-25v24m1-17v14m1-17v20m1-20v20m1-22v23m1-22v19m1-26v28m1-23v24m1-19v27m1-35v30m1-23v14m1-12v18m1-23v22m1-17v15m1-12v12m1-16v18m1-23v28m1-33v30m1-22v22m1-26v22m1-18v16m1-14v14m1-14v15m1-27v21m1-16v30m1-21v11m1-21v25m1-18v18m1-18v17m1-12v10m1-14v13m1-15v18m1-16v24m1-28v20m1-20v22m1-18v25m1-28v17m1-13v16m1-16v17m1-16v10m1-17v22m1-16v17m1-20v19m1-10v10m1-10v13m1-26v22m1-15v21m1-34v28m1-17v18m1-18v25m1-32v31m1-28v23m1-17v23m1-23v25m1-28v22m1-20v25m1-18v10m1-13v17m1-33v30m1-16v18m1-20v18m1-26v26m1-22v21m1-27v23m1-18v22m1-18v16m1-1v15m1-26v14m1-12v12m1-19v21m1-12v14m1-13v12m1-13v7m1-12v21m1-23v17m1-20v23m1-25v19m1-8v18m1-23v20m1-11v14m1-20v19m1-21v14m1-10v15m1-20v21m1-22v16m1-19v17m1-8v7m1-18v14m1-5v17m1-19v15m1-15v10m1-10v16m1-16v13m1-10v8m1-17v17m1-14v25m1-22v11m1-10v15m1-15v12m1-13v12m1-11v24m1-24v14m1-13v13m1-18v24m1-24v20m1-21v17m1-17v16m1-12v11m1-25v35m1-19v8m1-8v15m1-15v14m1-12v13m1-17v17m1-13v15m1-25v22m1-16v11m1-12v13m1-9v14m1-24v22m1-28v17m1-4v13m1-8v11m1-13v9m1-16v20m1-13v10m1-9v7m1-18v18m1-8v8m1-11v14m1-12v10m1-10v11m1-17v20m1-16v25m1-23v15m1-16v6m1-3v1m1-2v9m1-11v16m1-9v8m1-18v14m1-7v6m1-8v16m1-15v8m1-17v17m1-13v16m2-11v12m1-13v15m1-14v14m1-14v12m1-6v5m1-15v21m1-15v7m1-8v15m1-17v9m1-16v18m1-19v20m1-13v4m1-4v11m1-10v8m1-10v13m1-8v10m1-12v6m1-10v12m1-14v8m1-1v9m1-15v9m1-12v19m1-14v15m1-14v13m1-7v3m1-8v8m1-3v2m1-3v4m1-10v8m1-11v23m1-15v15m1-17v13m1-11v13m1-8v5m1-15v12m1-9v8m1-6v9m1-6v4m1-13v10m2-6v6m1-7v16m1-17v17m1-18v5m1-5v8m1-1v7m1-11v4" stroke="#000" stroke-width="1" shape-rendering="crispEdges" fill="none"/>
<line x1="95.35" y1="27.0" x2="95.35" y2="195" stroke="#000" stroke-opacity="0.3" stroke-width="1.4"/>
<line x1="67.45" y1="99.9" x2="67.45" y2="195" stroke="#000" stroke-opacity="0.38" stroke-width="1.4"/>
<line x1="150.5" y1="119.3" x2="150.5" y2="195" stroke="#000" stroke-opacity="0.38" stroke-width="1.4"/>
<line x1="208.0" y1="142.8" x2="208.0" y2="195" stroke="#000" stroke-opacity="0.3" stroke-width="1.4"/>
<line x1="205.6" y1="156.2" x2="205.6" y2="195" stroke="#000" stroke-opacity="0.35" stroke-width="1.4"/>
<rect x="39" y="15.4" width="2" height="247.49999999999997" fill="#b4b4b4"/>
<rect x="39.9" y="15.2" width="347.40000000000003" height="1.4" fill="#a0a0a0"/>
<rect x="39.9" y="261.8" width="347.90000000000003" height="1.1" fill="#707070"/>
<rect x="386.8" y="15.9" width="1" height="246.49999999999997" fill="#8a8a8a"/>
<line x1="38.6" y1="260.4" x2="40" y2="260.4" stroke="#555" stroke-width="0.7"/>
<line x1="38.6" y1="249.9" x2="40" y2="249.9" stroke="#555" stroke-width="0.7"/>
<line x1="38.6" y1="239.3" x2="40" y2="239.3" stroke="#555" stroke-width="0.7"/>
<line x1="38.6" y1="228.8" x2="40" y2="228.8" stroke="#555" stroke-width="0.7"/>
<line x1="37.6" y1="218.3" x2="40" y2="218.3" stroke="#444" stroke-width="0.9"/>
<line x1="38.6" y1="207.8" x2="40" y2="207.8" stroke="#555" stroke-width="0.7"/>
<line x1="38.6" y1="197.3" x2="40" y2="197.3" stroke="#555" stroke-width="0.7"/>
<line x1="38.6" y1="186.7" x2="40" y2="186.7" stroke="#555" stroke-width="0.7"/>
<line x1="38.6" y1="176.2" x2="40" y2="176.2" stroke="#555" stroke-width="0.7"/>
<line x1="37.6" y1="165.7" x2="40" y2="165.7" stroke="#444" stroke-width="0.9"/>
<line x1="38.6" y1="155.2" x2="40" y2="155.2" stroke="#555" stroke-width="0.7"/>
<line x1="38.6" y1="144.7" x2="40" y2="144.7" stroke="#555" stroke-width="0.7"/>
<line x1="38.6" y1="134.1" x2="40" y2="134.1" stroke="#555" stroke-width="0.7"/>
<line x1="38.6" y1="123.6" x2="40" y2="123.6" stroke="#555" stroke-width="0.7"/>
<line x1="37.6" y1="113.1" x2="40" y2="113.1" stroke="#444" stroke-width="0.9"/>
<line x1="38.6" y1="102.6" x2="40" y2="102.6" stroke="#555" stroke-width="0.7"/>
<line x1="38.6" y1="92.1" x2="40" y2="92.1" stroke="#555" stroke-width="0.7"/>
<line x1="38.6" y1="81.5" x2="40" y2="81.5" stroke="#555" stroke-width="0.7"/>
<line x1="38.6" y1="71.0" x2="40" y2="71.0" stroke="#555" stroke-width="0.7"/>
<line x1="37.6" y1="60.5" x2="40" y2="60.5" stroke="#444" stroke-width="0.9"/>
<line x1="38.6" y1="50.0" x2="40" y2="50.0" stroke="#555" stroke-width="0.7"/>
<line x1="38.6" y1="39.5" x2="40" y2="39.5" stroke="#555" stroke-width="0.7"/>
<line x1="38.6" y1="28.9" x2="40" y2="28.9" stroke="#555" stroke-width="0.7"/>
<line x1="38.6" y1="18.4" x2="40" y2="18.4" stroke="#555" stroke-width="0.7"/>
<line x1="39.9" y1="262" x2="39.9" y2="264.6" stroke="#444" stroke-width="0.9"/>
<line x1="63.0" y1="262" x2="63.0" y2="263.6" stroke="#555" stroke-width="0.7"/>
<line x1="86.2" y1="262" x2="86.2" y2="263.6" stroke="#555" stroke-width="0.7"/>
<line x1="109.3" y1="262" x2="109.3" y2="263.6" stroke="#555" stroke-width="0.7"/>
<line x1="132.5" y1="262" x2="132.5" y2="263.6" stroke="#555" stroke-width="0.7"/>
<line x1="155.7" y1="262" x2="155.7" y2="264.6" stroke="#444" stroke-width="0.9"/>
<line x1="178.8" y1="262" x2="178.8" y2="263.6" stroke="#555" stroke-width="0.7"/>
<line x1="201.9" y1="262" x2="201.9" y2="263.6" stroke="#555" stroke-width="0.7"/>
<line x1="225.1" y1="262" x2="225.1" y2="263.6" stroke="#555" stroke-width="0.7"/>
<line x1="248.2" y1="262" x2="248.2" y2="263.6" stroke="#555" stroke-width="0.7"/>
<line x1="271.4" y1="262" x2="271.4" y2="264.6" stroke="#444" stroke-width="0.9"/>
<line x1="294.5" y1="262" x2="294.5" y2="263.6" stroke="#555" stroke-width="0.7"/>
<line x1="317.7" y1="262" x2="317.7" y2="263.6" stroke="#555" stroke-width="0.7"/>
<line x1="340.8" y1="262" x2="340.8" y2="263.6" stroke="#555" stroke-width="0.7"/>
<line x1="364.0" y1="262" x2="364.0" y2="263.6" stroke="#555" stroke-width="0.7"/>
<line x1="387.1" y1="262" x2="387.1" y2="264.6" stroke="#444" stroke-width="0.9"/>
<text x="35.8" y="223.3" text-anchor="end" font-size="14" font-family="'Liberation Sans', sans-serif">0</text>
<text x="35.8" y="170.7" text-anchor="end" font-size="14" font-family="'Liberation Sans', sans-serif">5</text>
<text x="35.8" y="118.1" text-anchor="end" font-size="14" font-family="'Liberation Sans', sans-serif">10</text>
<text x="35.8" y="65.5" text-anchor="end" font-size="14" font-family="'Liberation Sans', sans-serif">15</text>
<text x="39.9" y="276.6" text-anchor="middle" font-size="14" font-family="'Liberation Sans', sans-serif">0</text>
<text x="155.7" y="276.6" text-anchor="middle" font-size="14" font-family="'Liberation Sans', sans-serif">5</text>
<text x="271.4" y="276.6" text-anchor="middle" font-size="14" font-family="'Liberation Sans', sans-serif">10</text>
<text x="387.1" y="276.6" text-anchor="middle" font-size="14" font-family="'Liberation Sans', sans-serif">15</text>
<text x="114" y="12.3" font-size="16.6" font-family="'Liberation Sans', sans-serif" textLength="198" lengthAdjust="spacingAndGlyphs">TLS result for TOI-1749b</text>
<text x="143.8" y="295.2" font-size="14" font-family="'Liberation Sans', sans-serif" textLength="140" lengthAdjust="spacingAndGlyphs">Orbital period (days)</text>
<text transform="translate(10.9,152) rotate(-90)" font-size="14" font-family="'Liberation Sans', sans-serif" textLength="26" lengthAdjust="spacingAndGlyphs">SDE</text>
<line x1="491.9" y1="39.5" x2="491.9" y2="200" stroke="#3a3a3a" stroke-width="1.1"/>
<line x1="466.9" y1="113.1" x2="466.9" y2="200" stroke="#3a3a3a" stroke-width="1.1"/>
<line x1="475.7" y1="138.2" x2="475.7" y2="200" stroke="#3a3a3a" stroke-width="1.1"/>
<line x1="541.9" y1="128.2" x2="541.9" y2="200" stroke="#3a3a3a" stroke-width="1.1"/>
<line x1="540.1" y1="144.5" x2="540.1" y2="200" stroke="#3a3a3a" stroke-width="1.1"/>
<line x1="591.7" y1="138.2" x2="591.7" y2="200" stroke="#3a3a3a" stroke-width="1.1"/>
<line x1="450" y1="149.6" x2="450" y2="200" stroke="#3a3a3a" stroke-width="1.1"/>
<line x1="459.4" y1="147.8" x2="459.4" y2="200" stroke="#3a3a3a" stroke-width="1.1"/>
<line x1="482.8" y1="154.8" x2="482.8" y2="200" stroke="#3a3a3a" stroke-width="1.1"/>
<line x1="521.8" y1="154.1" x2="521.8" y2="200" stroke="#3a3a3a" stroke-width="1.1"/>
<line x1="549.4" y1="154.8" x2="549.4" y2="200" stroke="#3a3a3a" stroke-width="1.1"/>
<line x1="635.7" y1="129.7" x2="635.7" y2="200" stroke="#3a3a3a" stroke-width="1.1"/>
<line x1="640.8" y1="135.2" x2="640.8" y2="200" stroke="#3a3a3a" stroke-width="1.1"/>
<line x1="627" y1="155.8" x2="627" y2="200" stroke="#3a3a3a" stroke-width="1.1"/>
<line x1="683.3" y1="145.8" x2="683.3" y2="200" stroke="#3a3a3a" stroke-width="1.1"/>
<line x1="688.8" y1="155.8" x2="688.8" y2="200" stroke="#3a3a3a" stroke-width="1.1"/>
<line x1="726.3" y1="145.3" x2="726.3" y2="200" stroke="#3a3a3a" stroke-width="1.1"/>
<line x1="741.4" y1="154.1" x2="741.4" y2="200" stroke="#3a3a3a" stroke-width="1.1"/>
<line x1="618.4" y1="158.6" x2="618.4" y2="200" stroke="#3a3a3a" stroke-width="1.1"/>
<line x1="595.8" y1="162.9" x2="595.8" y2="200" stroke="#3a3a3a" stroke-width="1.1"/>
<line x1="707.7" y1="163.6" x2="707.7" y2="200" stroke="#3a3a3a" stroke-width="1.1"/>
<line x1="712.7" y1="162.9" x2="712.7" y2="200" stroke="#3a3a3a" stroke-width="1.1"/>
<line x1="662.4" y1="165.9" x2="662.4" y2="200" stroke="#3a3a3a" stroke-width="1.1"/>
<line x1="561.5" y1="160.9" x2="561.5" y2="200" stroke="#3a3a3a" stroke-width="1.1"/>
<line x1="507.9" y1="158.4" x2="507.9" y2="200" stroke="#3a3a3a" stroke-width="1.1"/>
<path d="M446.5 175v1m0 44v15m2-79v1m1 81v1m2-4v1m3-1v1m4-65v1m2-17v1m3 79v1m1-73v1m0 75v1m1-78v1m4 0v1m1 71v1m1-75v3m2 70v1m2 0v1m1-98v34m1-9v1m1 0v3m0 70v2m3-2v1m1-1v1m1-84v1m1 81v1m1 0v1m4-72v1m2 69v1m3-74v1m1 3v4m2 65v1m1-76v3m2 9v5m3 56v2m1 0v1m1-2v1m1-1v1m1-3v1m3 3v1m1-64v3m0 59v1m3-71v1m4 10v3m2 61v1m3-65v1m0 58v1m2-61v4m2-6v1m2 1v1m2 7v1m1-2v1m3-6v1m0 56v1m1 0v4m1-58v1m6 53v1m1-54v1m1 51v1m1-61v3m4 4v1m4-21v1m1 9v13m0 51v4m1-3v1m2-3v1m2-80v1m0 78v3m2-61v1m1-12v1m1 0v6m1 0v1m0 63v1m2-57v1m2-20v1m3 27v1m0 46v1m1-1v1m1-57v7m0 49v1m1-1v1m1-66v1m0 62v1m1-49v2m2-3v2m0 48v3m1-63v1m1 60v8m1-60v5m7-13v1m0 59v1m2 4v1m1-105v26m1 73v2m2-77v1m4 1v16m2-5v1m0 60v1m3 0v3m1 0v1m3-4v4m4-74v1m8 70v1m2-73v1m0 70v1m2 0v5m1-81v1m1-8v1m1-1v1m0 80v1m1-64v15m2-7v1m1-6v1m5-47v60m2 46v2m5-1v1m1-1v1m1-1v1m5-47v1m1 0v1m1 45v1m3-57v12m1-13v1m1 4v1m4-19v1m1-4v1m0 72v1m6-1v1m1-2v1m2-58v9m0 49v9m2-11v1m1-1v1m3 2v1m1-45v3m1 40v1m2-49v1m1-45v39m0 54v1m2-48v1m1 2v1m1 0v1m1 40v1m1-3v2m1-82v1m1 34v1m1-6v1m1-11v1m1 0v18m1-5v5m2 44v1m1-1v1m1 0v1m1-58v11m4 45v1m1-46v1m1-1v1m1 43v1m1 2v1m1-78v26m3 47v2m1-76v1m1 0v21m0 54v1m1-54v8m1 43v1m1-47v6m0 40v3m2-47v1m1 44v3m1-60v1m0 59v1m1-61v1m1 58v1m1-3v2m2-94v27m0 66v1m4-78v1m0 73v2m3-55v1m3 1v1m2 52v1m1 0v1m2-3v4m2-49v1m0 46v1m2-45v1m1-1v1m0 43v1m1-48v1m0 46v1m1-48v1m3 40v2" stroke="#000" stroke-opacity="0.10" stroke-width="1" shape-rendering="crispEdges" fill="none"/>
<path d="M446.5 176v17m0 13v14m2-63v6m0 75v1m1-90v1m1-1v1m1 16v1m0 67v1m4-78v1m1-1v1m1 5v1m1 8v1m0 67v1m1-94v1m0 92v1m1-6v1m2-66v1m1-7v6m1 64v5m1 0v1m3-76v11m2 59v1m1 1v1m3-3v1m2 0v1m1 3v1m1-73v1m2-10v1m2-5v1m1 0v10m2-7v6m2-1v1m4-125v1m0 195v1m1-197v1m1 195v1m3-76v5m5 13v1m0 56v1m1-58v1m2-21v21m4-21v1m1 13v6m2-1v1m1 58v1m1-71v1m1 0v2m1 67v1m1-2v1m2 1v1m1 3v1m1-4v3m2-87v21m0 60v2m3-57v1m1 55v1m1-62v5m2-3v4m1-5v1m1 59v1m3-58v1m5-36v1m1-1v1m1 91v1m5-59v4m1-8v1m2-21v1m4 8v6m0 67v5m4-79v20m2-6v4m0 56v1m3-2v1m3-62v12m1-4v5m0 50v1m2 0v1m1-76v11m2 61v1m4-64v1m1 0v14m2 50v1m1-50v1m2-13v1m1 59v1m1-3v1m2 0v1m1-74v27m1 47v1m2-2v2m1-2v7m2-78v1m1-7v1m1-1v1m2 3v1m2 0v1m0 74v1m1-59v1m1 55v1m1-61v1m1-2v1m1 60v4m1-58v5m2 3v1m0 45v1m2-51v1m1-23v1m1 71v3m1-44v1m3-23v1m2 62v2m1 1v1m1-1v1m1-1v1m1-58v1m1 54v1m1-71v18m3-22v20m4 52v1m6-1v1m1-46v1m1 0v2m1-2v1m0 43v1m3-101v56m0 44v1m4-54v10m4 0v1m2 45v1m1-55v1m1 52v1m1-61v11m2 48v1m1 0v1m5-1v1m1-73v13m7 1v1m3 8v1m1-18v15m3 0v5m1 7v1m2 38v1m1-47v1m1-7v1m0 51v2m1-94v1m1 90v2m4-83v1m1 0v13m0 67v2m2-52v1m0 50v1m2-44v1m1 43v1m2-66v19m0 43v3m3-45v1m2-11v2m2 50v3m1 0v1m4-50v1m1 47v1m1-51v4m2 46v1m1-54v1m1 8v1m3 2v1m1 38v1m1 0v1m5 1v1m1-67v21m2 1v1m3 42v1m1-58v2m3 54v2m1-53v11m0 40v1m5-51v5m8 46v1m2-27v21" stroke="#000" stroke-opacity="0.20" stroke-width="1" shape-rendering="crispEdges" fill="none"/>
<path d="M446.5 193v1m0 11v1m1-50v1m1 6v1m7 70v1m1 0v1m5 3v1m9-7v1m1-70v1m1-1v1m2 11v1m5 57v1m1-76v1m3 77v1m5-75v1m0 71v1m2 0v1m2-2v1m3-2v1m1-70v1m9 1v1m2-10v1m2 19v1m2-1v1m2 56v1m1 0v1m1-65v1m1-3v1m1 66v1m5-63v1m3 59v1m1-62v1m1 5v1m7 54v1m2-1v1m6-108v1m2 106v1m1-58v1m1 3v1m2 56v1m4-54v1m1 48v1m3-65v1m3 8v1m1 53v1m8-61v1m1-1v1m0 64v1m1-78v1m13 21v1m1 51v1m4-59v1m5 57v1m1-2v1m3-74v1m0 81v1m6-10v1m4-45v1m3-28v1m0 70v1m2-2v1m3-62v1m1 5v1m0 55v1m5-70v1m1 18v1m2-24v1m8 34v1m2 39v1m1-109v1m2 63v1m2-20v1m0 60v1m2-45v1m1-25v1m5 25v1m1 1v1m0 40v1m6-1v1m4 0v1m1-64v1m0 61v1m2-1v1m2-59v1m0 59v1m2-68v1m1 16v1m11 2v1m6 46v1m1-4v1m2 1v1m7-43v1m2 42v1m7-45v1m0 40v1m5 3v1m1 0v1m2-50v1m4 45v1m10-66v1m4 21v1m3-13v1m1 55v1m4-55v1m1 4v1m0 46v1m3-46v1m9 45v1" stroke="#000" stroke-opacity="0.30" stroke-width="1" shape-rendering="crispEdges" fill="none"/>
<path d="M446.5 194v11m4-55v17m4-4v1m2-6v5m1 72v1m2 0v4m2-84v16m0 61v6m1-68v1m0 67v1m2-7v1m2-1v1m1-121v55m1 7v1m1 58v1m3-2v1m7-76v1m1 1v4m1 71v2m4-73v2m1 68v3m1-73v1m0 70v1m3-67v1m1 64v1m1-195v121m1 0v1m1 72v1m2-2v1m1-74v1m4 18v4m7-24v13m0 62v6m3-61v2m0 52v3m4-63v10m0 52v1m1-65v11m1-12v1m1 64v2m1-66v5m1 61v1m2-62v2m2 60v1m3-2v1m1-57v2m0 52v1m1-55v1m2 53v1m1-52v1m2-5v4m1-5v1m0 54v1m2-52v5m0 51v1m1-60v2m1-37v35m1 55v1m1-108v1m0 106v1m1-107v46m1 0v1m1 8v1m2 52v1m5-55v2m2-16v1m1 69v1m1-5v1m2-54v1m0 53v1m5-59v5m2-10v1m1 12v1m3 50v1m1-63v4m3 12v1m1-11v1m1 52v3m3-48v1m3-13v9m4-2v1m3-7v1m0 56v1m1-57v12m2-13v2m2-15v8m2-14v11m2 74v1m1-7v6m2-63v9m2-13v1m2 10v1m5-2v6m1-28v21m0 52v1m4-64v11m1-12v1m0 62v1m3-50v1m1-31v1m0 79v1m3-3v1m1-51v5m0 45v1m4-81v27m4 53v1m6-1v1m6-69v14m1-15v1m1 68v1m7-44v1m1-9v7m0 44v2m6-64v1m1 0v12m1-18v19m0 47v1m2 0v1m2 0v1m1-66v16m1 47v1m1-56v9m11 49v1m2-50v3m1 47v1m1-54v4m5-32v1m2 10v11m7 54v1m1 1v2m2-44v2m0 40v1m1-54v1m2 11v2m3-3v1m0 42v1m1-55v1m1-21v1m0 72v3m7-45v1m0 41v1m2-41v1m1 0v2m4-18v6m6 8v2m3-35v18m1 58v1m1-2v1m2-42v1m1-1v1m7 40v1m1-46v1m2 43v2m2-46v3m1 0v2" stroke="#000" stroke-opacity="0.40" stroke-width="1" shape-rendering="crispEdges" fill="none"/>
<path d="M447.5 234v1m1 0v3m1-88v14m0 69v5m1-1v1m5-80v5m1 0v1m1 70v1m1 1v4m1-5v1m2-64v4m1 59v4m1-69v1m2-8v5m1-55v49m4-1v1m2 65v6m6 3v1m2-3v1m2-1v3m2-71v1m1 69v1m1-79v1m1 6v3m0 66v1m1-71v2m1 1v11m2-138v129m2-7v11m6-12v1m0 73v1m3-57v2m3 53v1m1-72v1m1-5v5m2 73v3m4-6v1m1-1v2m1-53v2m2-14v5m0 60v1m6-59v3m7 55v1m2-52v8m6-11v1m1 53v1m1-92v37m1-53v54m2-7v9m1 0v4m2-6v6m3 45v1m1-52v1m1 51v1m1 4v1m1-71v18m3 48v1m2-75v1m0 71v1m6 0v1m5-57v1m1 55v1m5 0v1m1-3v1m3 0v1m2-59v3m3 5v4m1-27v1m0 71v1m1-46v2m1-12v12m1 47v1m1-61v5m0 51v1m1-55v1m0 53v1m3-76v19m2 57v1m1-73v24m0 50v7m1-7v1m3-50v4m2 47v1m2-53v1m1-6v1m1 52v1m4-71v24m4 47v1m1-63v6m0 60v1m4-5v3m1-56v5m3 49v1m1-1v1m3-82v29m0 50v1m1-48v1m1-16v1m1 8v1m3 54v1m1-55v1m0 52v1m2-2v1m4-101v1m2 46v1m1-15v6m0 62v1m1-63v1m2 61v1m3-44v2m1 42v1m1-2v2m1-46v1m1-16v1m4 9v9m1-21v6m1 6v1m1 0v1m1-20v17m3-21v1m0 70v1m4-57v12m2 45v1m5-67v1m1 14v1m2 12v1m1-11v10m1 37v1m1-45v1m5 4v1m3-18v1m1 10v1m0 45v1m1-51v3m0 46v1m3-43v1m1-6v1m2-17v1m4 11v1m1 11v1m5 37v1m3-44v1m1-31v1m3 72v1m1-69v1m4 24v1m1-12v11m1-5v3m3 47v1m1-45v7m3-5v1m0 41v1m1-76v34m3-13v13m0 40v1m1 0v1m2-41v3m2-10v1m2 47v1m1-4v1m2-44v1m1 0v4m2-2v4m1-7v7m3-2v1" stroke="#000" stroke-opacity="0.50" stroke-width="1" shape-rendering="crispEdges" fill="none"/>
<path d="M447.5 157v15m3-5v4m1-4v6m2-10v4m1-3v6m2 64v1m2-62v1m2-18v1m0 76v2m2-1v1m2-71v10m1 62v3m4-75v7m2-6v7m1-7v7m3 62v1m1-63v1m2-5v5m1-14v15m1-10v15m1-20v1m1-5v5m1 5v8m1-6v6m1-7v4m1-11v5m2 2v1m0 67v1m2 0v1m2-2v1m3-64v5m2-15v2m1 1v1m2 13v1m2 55v1m1-77v25m1-4v1m3-16v17m2 53v3m3-67v1m1-4v3m0 63v1m1-65v1m0 63v1m1-49v1m1-4v1m1-7v1m2-1v4m0 57v4m2-87v10m2 17v1m1-6v1m2-2v5m2 3v1m2-7v8m1 49v1m2 1v1m1-53v1m1-5v3m6 0v1m1 51v2m6-53v1m0 49v5m4-2v3m2-77v11m1 11v1m1 49v1m1-53v1m1-21v13m4 7v1m3 52v1m2-55v1m0 53v1m3-74v28m3 45v1m2-64v15m0 47v1m2-2v1m2-46v2m1 53v1m1-65v1m4-18v21m2 50v1m4 2v5m1-69v1m1 61v1m1-66v1m1-8v7m1 17v1m0 48v1m1-74v32m2-5v1m3-15v21m0 39v3m2-3v1m1-54v12m2-3v1m0 47v1m2-5v2m1-49v1m1 6v5m2-15v2m1 47v1m1-56v14m2-5v1m1 47v1m2-50v1m1-22v15m2-4v7m1-22v15m1 5v4m0 55v1m2-58v10m7-11v2m0 49v1m2-2v1m1-41v2m3-60v45m3-7v12m2 6v1m1-11v11m1 1v3m0 39v1m1-41v1m1-2v1m0 41v1m1-3v2m3-59v6m1 4v1m1 5v4m3-17v1m5-3v7m1-20v5m0 64v1m1-48v1m2 0v1m2-5v7m2-3v1m2-1v7m1 39v1m1-64v14m0 49v1m1-49v5m1 0v3m2 4v1m1-8v1m0 42v1m2-46v1m2 2v2m2 40v2m2-81v2m1 23v10m0 44v1m1-44v2m1-4v1m1 46v1m4-46v1m1-19v18m1-10v1m2 1v9m1-7v8m0 41v1m1-38v1m1-4v1m1-2v1m0 40v3m1-43v1m1 40v1m2-47v1m0 47v2m1-53v1m5 7v2m0 37v1m2-38v1m0 37v1m3-43v2m5 41v1m2-92v1m0 91v1m5-55v16m0 38v1m1-42v1m4-12v6m2 46v1m1-52v3m3 4v1m0 42v1m2-42v1m2 40v2m1-1v1m1-2v1" stroke="#000" stroke-opacity="0.60" stroke-width="1" shape-rendering="crispEdges" fill="none"/>
<path d="M447.5 172v1m6 65v1m2-76v1m10 71v1m1-74v1m1 69v1m4-61v1m1 53v1m1-67v1m0 72v1m2-96v1m1 95v1m2-62v1m0 61v1m1-62v1m2 59v1m1-2v1m5-66v1m4 0v1m1-9v1m3 14v1m18-7v1m2 63v1m3-1v1m1 1v1m1-67v1m1 65v1m1-3v1m1 0v1m2-2v1m1-55v1m10-3v1m1 9v1m1 48v1m4-63v1m2 13v1m7-5v1m3-12v1m17 59v1m1 1v1m2-49v1m1-1v1m4 45v1m2 1v1m5-1v1m5-99v1m0 97v1m1 1v1m8-47v1m4 42v1m5-50v1m1 47v1m3-47v1m0 47v1m7 0v1m3-53v1m3 49v1m1-41v1m0 38v1m4 1v1m5-4v1m7 1v1m4-39v1m14-12v1m4 50v1m2 0v1m1-47v1m4-13v1m2 5v1m0 47v1m1-49v1m1 5v1m3 7v1m5 33v1m3 1v1m1-79v1m3 76v1m2 3v1m7-47v1m2 5v1m12-3v1m3 40v1m1-5v1m1-40v1m8 41v1m1-42v1m6 0v1m1 37v1m1-45v1m2-3v1m3 49v1m2-43v1m0 40v1" stroke="#000" stroke-opacity="0.70" stroke-width="1" shape-rendering="crispEdges" fill="none"/>
<path d="M447.5 173v2m0 57v2m1 0v1m1-3v1m1-62v1m0 62v3m1-64v1m1 64v1m1-72v1m0 67v3m1-68v1m3 62v1m1 1v1m3-4v1m1-61v1m0 60v1m1-63v6m2-9v1m0 64v2m4-5v4m1-72v9m1 2v1m0 54v8m1-15v5m1 6v1m2-94v38m2-13v18m0 56v1m1-7v3m2-56v1m1-20v2m1-2v1m0 71v1m1-60v1m1-1v1m2-10v1m2 68v1m1 3v1m1-68v18m2-26v15m0 51v6m1-61v1m5-9v9m1-12v11m0 58v4m1-56v1m0 55v1m1-53v1m0 50v1m1-54v1m1 1v1m1-4v1m0 53v2m2-3v2m2-63v1m0 60v1m1-55v1m1-6v5m2-8v8m1-8v11m2 4v1m1 47v1m2-55v1m1-1v1m0 54v1m3-58v5m2-6v5m2 53v1m1-55v5m2-4v2m0 51v1m1-51v1m1-1v8m1 0v1m0 44v1m2-54v2m1-4v1m0 49v1m1-55v3m1 7v2m0 45v3m2-4v1m1-54v3m0 48v2m2-59v7m0 51v1m1-50v1m1 4v1m1-12v5m1 5v1m0 45v2m1-62v1m0 63v1m3-56v1m3 3v1m0 45v1m1-60v16m0 44v4m1-53v5m1 42v2m1-51v6m0 45v1m3-3v1m1-77v4m0 75v2m1-54v3m1-20v11m1-4v1m1 60v1m5-45v1m0 42v1m1-71v1m1 27v3m1-13v9m1 42v1m1-45v2m2-1v1m3 48v5m2-9v1m1-51v4m1 45v2m2-45v1m4-11v6m1-48v42m0 54v1m1-1v3m1-60v1m1-8v16m4-23v30m0 42v2m4-41v1m0 37v1m1-47v11m2 35v5m1-49v7m0 36v1m1-42v1m0 42v4m2-5v1m1-46v1m6-11v10m0 44v1m1-45v2m3-3v3m1-10v1m4 4v1m0 48v6m1-59v1m0 50v1m2-46v7m0 40v1m1-63v8m1 53v1m2-38v1m3-69v56m0 47v2m3-43v2m0 40v1m2-54v1m0 53v1m1-2v1m1 1v1m1-51v1m1-12v21m1-3v1m1-1v1m3 2v1m1 37v1m1-41v3m0 37v2m2-52v1m2 52v1m1-56v5m2-5v14m0 39v2m2-48v1m3-4v1m2 2v4m2-3v1m1 2v5m1 36v3m3-56v8m0 47v11m1-51v1m2-10v12m2-4v1m0 41v2m3-46v1m1-1v2m0 43v1m2-93v47m0 44v1m1-43v1m1 0v3m1 35v1m1-76v38m1-38v26m0 49v1m2 0v2m2-61v9m2 10v1m1-6v2m3-9v9m0 44v3m1-43v1m3 37v1m4-51v10m1-30v20m2 4v1m0 47v1m1-1v2m1-3v1m1-73v24m2 11v1m3 37v2m1-45v6m3-9v1m0 45v1m1 0v2m1-57v11m1-20v9m1 55v1m1-92v44m2 7v1m3 38v1m2-40v1m1 0v4m0 33v1m1-36v1m1-9v2m0 42v1m1-46v1m2-3v1m0 45v3m2-3v4m1-45v4m2 38v1m1-2v1m2 0v1m1-40v1" stroke="#000" stroke-opacity="0.80" stroke-width="1" shape-rendering="crispEdges" fill="none"/>
<path d="M447.5 175v1m0 54v2m1-68v6m1-6v1m1 68v1m1-60v3m0 56v1m1-69v3m5-4v8m1 2v4m0 56v1m1-87v9m1 0v1m1 18v2m3 53v2m1-64v5m2-6v7m1 1v1m0 55v1m1-4v1m2-56v3m0 48v3m2-67v16m0 54v1m1 0v2m2-61v10m1 50v5m1-9v3m4-71v1m1 74v1m1-2v1m1-66v1m0 64v1m1-3v1m2-67v5m1 6v1m0 56v2m1-49v1m1 42v3m2 0v1m1-71v10m2-8v11m2-3v1m0 57v11m1-70v1m2 58v2m1-1v1m1-1v1m2-66v11m0 54v1m1-70v5m1 63v1m2-53v6m1-7v1m0 54v3m1-56v2m1 52v1m1-54v1m1-13v2m4 61v1m1 0v1m1 1v1m1-73v1m1 18v1m1-2v3m1 50v3m1-57v6m1-6v6m1 48v2m1-5v3m1-51v3m1-1v9m1-2v1m0 39v1m1 1v3m1-59v5m1 3v1m0 45v2m2-53v6m0 46v1m2-52v1m0 51v2m1-57v5m1 0v7m1-8v1m0 49v1m2 0v1m1-45v1m1 42v1m1-1v1m1-59v1m0 60v2m1-54v7m0 41v1m1-79v30m0 48v1m2 0v1m1-48v1m1 1v1m2 44v1m1-3v1m3-52v1m0 53v1m2-75v23m0 51v1m1-49v1m1 46v1m2-1v1m1 1v1m1-54v1m1-9v3m0 57v2m1 1v1m2-74v25m1 45v1m1-45v4m0 38v3m1-47v1m2-3v1m1 3v2m1-32v29m0 46v1m1-46v1m1-6v1m1-6v13m1 40v1m1-46v1m1-1v1m2 2v3m0 40v1m2-45v1m0 42v4m1-55v15m1-11v2m0 44v1m2-60v17m1-12v14m1-6v1m1-18v1m0 63v1m2 1v1m1-43v1m1-4v1m0 44v2m1-45v1m0 41v1m1-1v1m1-38v2m0 34v1m1-1v1m2-40v4m1-1v1m1-5v4m1-5v1m0 41v2m1-50v4m1 0v5m0 37v1m1-33v1m0 33v1m1-68v23m0 42v1m1 1v1m1-61v14m1 5v1m0 43v2m2-48v1m0 41v5m1-80v29m1 2v5m0 40v1m1 0v1m2-46v1m2-14v11m0 47v1m2-53v10m0 39v1m1-1v1m1-38v1m1 37v1m1-52v1m1-7v12m0 45v2m2-54v14m0 40v1m4-41v1m2-22v7m0 52v1m1-53v8m3 44v1m1-39v3m0 36v1m1-42v2m0 39v2m1-43v5m0 36v1m2-39v1m1-1v1m1-6v1m1 4v1m1 37v1m1 0v1m1-48v5m1 42v1m1-2v1m1-1v2m3-3v1m1 0v1m1-70v13m1 8v2m1-18v1m1 63v2m1-3v1m1-44v2m0 42v3m1-2v2m1-5v1m1-54v5m3 12v4m1-14v10m1 2v5m0 30v1m3-35v1m0 35v2m1-1v1m2-43v1m0 41v1m2-3v2m1-41v3m1 36v4m3-54v1m1 5v1m1 2v1m0 39v1m2-50v1m1 52v1m1-43v3m1-7v1m0 42v3m2-4v2m3-1v1m1-42v1m0 39v1m1-35v1m1 33v1m1-1v1m1-39v1m0 38v2m1-43v1m0 40v1m1-52v12m1-5v1m0 45v1m3-75v24m2-2v12m1 36v1m1-66v23m2 8v1m3-8v6m0 41v1m2-77v36m1-6v1m0 42v1m1-55v16m1 2v1m0 34v2m1-47v7m0 37v2m1-39v1m1 37v2m1-3v1m1-55v1m0 55v1m1-38v1m1 34v2m2-34v2m2-10v1m2 41v1m1-47v7m1-5v3m1-41v35m2 48v1m1-42v2m1 1v1m1-1v1m0 35v1m1-41v5m0 35v1m2-38v13" stroke="#000" stroke-opacity="0.90" stroke-width="1" shape-rendering="crispEdges" fill="none"/>
<path d="M447.5 176v54m1-60v64m1-69v67m1-60v61m1-56v56m1-65v70m1-70v67m1-64v64m1-71v70m1-70v70m1-62v61m1-55v56m1-77v78m1-77v75m1-55v54m1-59v60m1-56v58m1-61v57m1-57v59m1-70v70m1-58v57m1-55v55m1-61v58m1-58v62m1-56v48m1-53v49m1-44v54m1-54v55m1-55v57m1-51v51m1-52v51m1-59v55m1-54v59m1-54v54m1-72v72m1-72v70m1-58v62m1-62v61m1-64v64m1-70v68m1-64v65m1-62v61m1-54v56m1-46v46m1-65v61m1-54v51m1-54v60m1-60v60m1-57v57m1-57v56m1-70v73m1-61v57m1-58v57m1-51v55m1-51v48m1-50v51m1-49v49m1-52v53m1-55v54m1-64v64m1-52v51m1-59v60m1-47v48m1-54v54m1-51v50m1-54v56m1-52v50m1-61v61m1-46v47m1-51v51m1-57v59m1-55v52m1-52v53m1-63v65m1-71v71m1-52v50m1-49v50m1-53v53m1-48v47m1-47v48m1-49v49m1-51v48m1-45v48m1-40v41m1-42v39m1-39v41m1-51v52m1-48v45m1-49v49m1-45v46m1-43v45m1-52v51m1-50v50m1-43v41m1-48v49m1-51v51m1-48v49m1-43v43m1-51v50m1-44v44m1-57v60m1-45v41m1-48v48m1-48v50m1-49v48m1-46v49m1-47v44m1-43v44m1-44v43m1-62v60m1-42v45m1-59v58m1-52v53m1-78v76m1-49v51m1-47v47m1-57v56m1-59v60m1-48v47m1-47v49m1-52v52m1-58v57m1-55v58m1-46v42m1-44v44m1-39v40m1-40v38m1-43v43m1-42v44m1-47v46m1-41v41m1-44v46m1-44v42m1-47v52m1-45v42m1-46v44m1-44v44m1-44v44m1-50v50m1-39v40m1-44v43m1-42v42m1-36v36m1-45v44m1-52v54m1-44v44m1-42v42m1-47v47m1-64v63m1-46v48m1-41v41m1-41v41m1-44v44m1-42v41m1-57v57m1-35v34m1-34v34m1-46v47m1-36v36m1-36v35m1-36v38m1-42v41m1-44v44m1-39v37m1-31v33m1-44v42m1-44v46m1-46v46m1-40v43m1-48v44m1-41v41m1-46v49m1-42v40m1-43v44m1-53v53m1-44v44m1-50v51m1-48v47m1-48v48m1-42v39m1-37v37m1-36v39m1-54v52m1-50v51m1-46v45m1-35v38m1-41v40m1-50v49m1-49v47m1-42v42m1-36v41m1-44v40m1-52v52m1-44v45m1-43v42m1-51v53m1-49v47m1-35v36m1-39v39m1-36v36m1-37v38m1-38v38m1-38v39m1-44v41m1-36v36m1-41v42m1-50v51m1-42v42m1-38v38m1-49v48m1-39v39m1-39v39m1-47v48m1-46v44m1-47v48m1-56v57m1-47v49m1-66v63m1-42v42m1-46v45m1-41v42m1-37v38m1-44v41m1-48v52m1-47v48m1-49v47m1-35v35m1-39v37m1-30v30m1-41v44m1-41v41m1-36v35m1-35v36m1-43v41m1-39v41m1-46v46m1-44v42m1-36v35m1-35v36m1-37v36m1-37v39m1-50v48m1-42v43m1-40v39m1-43v44m1-49v51m1-41v42m1-39v39m1-45v42m1-42v41m1-42v42m1-42v44m1-39v39m1-42v41m1-40v39m1-33v33m1-38v38m1-39v39m1-37v38m1-40v40m1-39v39m1-43v45m1-48v47m1-43v43m1-49v48m1-48v50m1-40v41m1-39v34m1-42v45m1-38v37m1-35v36m1-37v35m1-38v40m1-38v41m1-48v45m1-37v38m1-43v42m1-38v38m1-35v34m1-38v37m0 2v1m1-39v39m1-39v37m1-39v38m1-53v55m1-36v36m1-39v37m1-36v39m1-33v31m1-34v34m1-40v41m1-44v44m1-46v46m1-39v38m1-40v40m1-46v46m1-37v38m1-38v39m1-39v38m1-36v35m1-35v35m1-35v35m1-37v38m1-25v26" stroke="#000" stroke-width="1" shape-rendering="crispEdges" fill="none"/>
<rect x="442.1" y="21.6" width="313.19999999999993" height="246.79999999999998" fill="none" stroke="#b8b8b8" stroke-width="1"/>
<line x1="442.1" y1="268.4" x2="445.1" y2="268.4" stroke="#b8b8b8" stroke-width="1"/>
<line x1="752.3" y1="268.4" x2="755.3" y2="268.4" stroke="#b8b8b8" stroke-width="1"/>
<text x="439.0" y="271.5" text-anchor="end" font-size="9.4" fill="#333" stroke="#333" stroke-width="0.2" font-family="'Liberation Sans', sans-serif">-5</text>
<line x1="442.1" y1="219.0" x2="445.1" y2="219.0" stroke="#b8b8b8" stroke-width="1"/>
<line x1="752.3" y1="219.0" x2="755.3" y2="219.0" stroke="#b8b8b8" stroke-width="1"/>
<text x="439.0" y="222.1" text-anchor="end" font-size="9.4" fill="#333" stroke="#333" stroke-width="0.2" font-family="'Liberation Sans', sans-serif">0</text>
<line x1="442.1" y1="169.7" x2="445.1" y2="169.7" stroke="#b8b8b8" stroke-width="1"/>
<line x1="752.3" y1="169.7" x2="755.3" y2="169.7" stroke="#b8b8b8" stroke-width="1"/>
<text x="439.0" y="172.8" text-anchor="end" font-size="9.4" fill="#333" stroke="#333" stroke-width="0.2" font-family="'Liberation Sans', sans-serif">5</text>
<line x1="442.1" y1="120.3" x2="445.1" y2="120.3" stroke="#b8b8b8" stroke-width="1"/>
<line x1="752.3" y1="120.3" x2="755.3" y2="120.3" stroke="#b8b8b8" stroke-width="1"/>
<text x="439.0" y="123.4" text-anchor="end" font-size="9.4" fill="#333" stroke="#333" stroke-width="0.2" font-family="'Liberation Sans', sans-serif">10</text>
<line x1="442.1" y1="71.0" x2="445.1" y2="71.0" stroke="#b8b8b8" stroke-width="1"/>
<line x1="752.3" y1="71.0" x2="755.3" y2="71.0" stroke="#b8b8b8" stroke-width="1"/>
<text x="439.0" y="74.1" text-anchor="end" font-size="9.4" fill="#333" stroke="#333" stroke-width="0.2" font-family="'Liberation Sans', sans-serif">15</text>
<line x1="442.1" y1="21.6" x2="445.1" y2="21.6" stroke="#b8b8b8" stroke-width="1"/>
<line x1="752.3" y1="21.6" x2="755.3" y2="21.6" stroke="#b8b8b8" stroke-width="1"/>
<text x="439.0" y="24.7" text-anchor="end" font-size="9.4" fill="#333" stroke="#333" stroke-width="0.2" font-family="'Liberation Sans', sans-serif">20</text>
<line x1="442.1" y1="268.4" x2="442.1" y2="265.4" stroke="#b8b8b8" stroke-width="1"/>
<line x1="442.1" y1="21.6" x2="442.1" y2="24.6" stroke="#b8b8b8" stroke-width="1"/>
<text x="441.8" y="280.8" text-anchor="middle" font-size="9.4" fill="#333" stroke="#333" stroke-width="0.12" font-family="'Liberation Sans', sans-serif">0</text>
<line x1="546.4" y1="268.4" x2="546.4" y2="265.4" stroke="#b8b8b8" stroke-width="1"/>
<line x1="546.4" y1="21.6" x2="546.4" y2="24.6" stroke="#b8b8b8" stroke-width="1"/>
<text x="546.2" y="280.8" text-anchor="middle" font-size="9.4" fill="#333" stroke="#333" stroke-width="0.12" font-family="'Liberation Sans', sans-serif">5</text>
<line x1="650.7" y1="268.4" x2="650.7" y2="265.4" stroke="#b8b8b8" stroke-width="1"/>
<line x1="650.7" y1="21.6" x2="650.7" y2="24.6" stroke="#b8b8b8" stroke-width="1"/>
<text x="651.3" y="280.8" text-anchor="middle" font-size="9.4" fill="#333" stroke="#333" stroke-width="0.12" font-family="'Liberation Sans', sans-serif">10</text>
<line x1="755.0" y1="268.4" x2="755.0" y2="265.4" stroke="#b8b8b8" stroke-width="1"/>
<line x1="755.0" y1="21.6" x2="755.0" y2="24.6" stroke="#b8b8b8" stroke-width="1"/>
<text x="755.3" y="280.8" text-anchor="middle" font-size="9.4" fill="#333" stroke="#333" stroke-width="0.12" font-family="'Liberation Sans', sans-serif">15</text>
<text x="501" y="16" font-size="16.5" font-family="'Liberation Sans', sans-serif" textLength="184" lengthAdjust="spacingAndGlyphs">TPS result for TOI-1749b</text>
<text x="555.5" y="292.6" font-size="9.6" fill="#222" font-family="'Liberation Sans', sans-serif" textLength="85.2" lengthAdjust="spacingAndGlyphs">Orbital Period (days)</text>
<text transform="translate(425.3,153.9) rotate(-90)" font-size="9.8" fill="#222" font-family="'Liberation Sans', sans-serif" textLength="17.6" lengthAdjust="spacingAndGlyphs">SDE</text>
</svg></body></html>
